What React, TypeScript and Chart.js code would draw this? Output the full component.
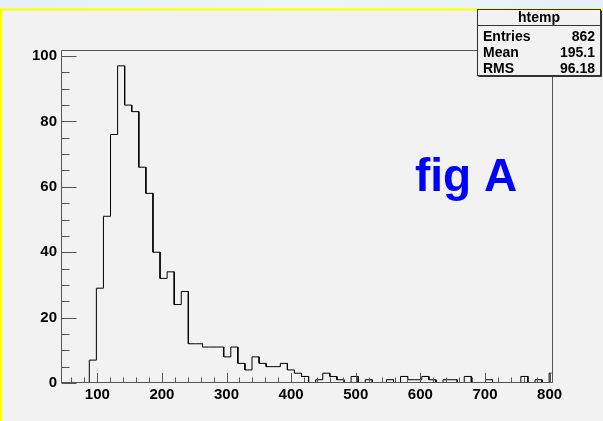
import React, { useEffect, useRef } from 'react';
import { Chart, registerables } from 'chart.js';

Chart.register(...registerables);

// ---- data ----
const BIN_START = 43.8;
const BIN_WIDTH = 10.95;
const counts = [
  0, 0, 0, 0, 7, 29, 51, 76, 97, 85, 83, 66, 58, 40, 32, 34, 24, 28,
  12, 12, 11, 11, 11, 8, 11, 6, 4, 8, 6, 5, 5, 6, 4, 3, 2, 0, 1, 3, 2,
  1, 0, 2, 0, 1, 0, 0, 1, 0, 2, 1, 1, 2, 1, 0, 1, 1, 0, 2, 0, 0, 1, 0, 0, 0, 0, 2, 0, 1, 0, 3,
];
const X_MIN = 43.8;
const X_MAX = 803;
const Y_MAX = 101.85;
const xMajorTicks = [100, 200, 300, 400, 500, 600, 700, 800];
const xMinorStep = 20;
const yMajorTicks = [0, 20, 40, 60, 80, 100];
const yMinorStep = 5;
const statsTitle = 'htemp';
const statsLabels = ['Entries', 'Mean', 'RMS'];
const statsValues = ['862', '195.1', '96.18'];
const annotationText = 'fig A';

const FONT = '"Liberation Sans", Arial, Helvetica, sans-serif';
const BG = '#f2f2f2';
const FRAME = '#555555';

function buildTicks(min: number, max: number, step: number) {
  const out: number[] = [];
  for (let v = Math.ceil(min / step) * step; v <= max + 1e-9; v += step) out.push(v);
  return out;
}

const histPoints: { x: number; y: number }[] = [];
counts.forEach((c, k) => {
  histPoints.push({ x: BIN_START + k * BIN_WIDTH, y: c });
  histPoints.push({ x: BIN_START + (k + 1) * BIN_WIDTH, y: c });
});

const decorPlugin = {
  id: 'rootDecor',
  beforeDraw(chart: any) {
    const { ctx, width, height } = chart;
    ctx.save();
    ctx.fillStyle = BG;
    ctx.fillRect(0, 0, width, height);
    const g = ctx.createLinearGradient(0, 0, width, 0);
    g.addColorStop(0, '#e6eff9');
    g.addColorStop(0.5, '#eef4fb');
    g.addColorStop(1, '#e6eff9');
    ctx.fillStyle = g;
    ctx.fillRect(0, 0, width, 8.5);
    ctx.fillStyle = '#ffff00';
    ctx.fillRect(0, 8.5, width, 2);
    ctx.fillRect(0, 8.5, 2.3, height);
    ctx.restore();
  },
  afterDatasetsDraw(chart: any) {
    const { ctx, chartArea } = chart;
    const xs = chart.scales.x;
    const ys = chart.scales.y;
    const L = Math.round(chartArea.left) + 0.5;
    const R = Math.round(chartArea.right) + 0.5;
    const T = Math.round(chartArea.top) + 0.5;
    const B = Math.round(chartArea.bottom) - 0.5;
    ctx.save();
    ctx.strokeStyle = FRAME;
    ctx.lineWidth = 1;
    ctx.beginPath();
    ctx.rect(L, T, R - L, B - T);
    // x ticks
    buildTicks(X_MIN, X_MAX, xMinorStep).forEach((v) => {
      const px = Math.round(xs.getPixelForValue(v)) + 0.5;
      const len = xMajorTicks.includes(v) ? 9.5 : 5;
      ctx.moveTo(px, B);
      ctx.lineTo(px, B - len);
    });
    // y ticks
    buildTicks(0, Y_MAX, yMinorStep).forEach((v) => {
      const py = Math.round(ys.getPixelForValue(v)) + 0.5;
      const len = yMajorTicks.includes(v) ? 15 : 8;
      ctx.moveTo(L, py);
      ctx.lineTo(L + len, py);
    });
    ctx.stroke();
    ctx.restore();
  },
  afterDraw(chart: any) {
    const { ctx } = chart;
    ctx.save();
    // annotation
    ctx.fillStyle = '#0000ff';
    ctx.font = `bold 46px ${FONT}`;
    ctx.textAlign = 'left';
    ctx.textBaseline = 'alphabetic';
    ctx.fillText(annotationText, 415, 191);

    // stats box
    const bx = 477.5, by = 9.5, bw = 123, bh = 66;
    ctx.fillStyle = BG;
    ctx.fillRect(bx, by, bw, bh);
    ctx.strokeStyle = '#333333';
    ctx.lineWidth = 1;
    ctx.strokeRect(bx, by, bw, bh);
    ctx.beginPath();
    ctx.moveTo(bx, 25.5);
    ctx.lineTo(bx + bw, 25.5);
    ctx.moveTo(bx + 1, by + bh + 1);
    ctx.lineTo(bx + bw + 1, by + bh + 1);
    ctx.moveTo(bx + bw + 1, by + 1);
    ctx.lineTo(bx + bw + 1, by + bh + 1);
    ctx.stroke();

    ctx.fillStyle = '#000000';
    ctx.font = `bold 14px ${FONT}`;
    ctx.textAlign = 'center';
    ctx.fillText(statsTitle, 539, 22);
    const baselines = [41, 57, 72.5];
    statsLabels.forEach((lab, i) => {
      ctx.textAlign = 'left';
      ctx.fillText(lab, 483, baselines[i]);
      ctx.textAlign = 'right';
      ctx.fillText(statsValues[i], 595, baselines[i]);
    });
    ctx.restore();
  },
};

export default function App() {
  const ref = useRef<HTMLCanvasElement | null>(null);
  useEffect(() => {
    document.body.style.margin = '0';
    const canvas = ref.current;
    if (!canvas) return;
    const chart = new Chart(canvas, {
      type: 'line',
      data: {
        datasets: [
          {
            label: statsTitle,
            data: histPoints,
            borderColor: '#000000',
            borderWidth: 1,
            pointRadius: 0,
            fill: false,
            tension: 0,
          },
        ],
      },
      options: {
        animation: false,
        responsive: false,
        devicePixelRatio: 1,
        layout: { padding: { left: 0, top: 50, right: 51.5, bottom: 0 } },
        plugins: { legend: { display: false }, tooltip: { enabled: false } },
        scales: {
          x: {
            type: 'linear',
            min: X_MIN,
            max: X_MAX,
            afterBuildTicks: (s: any) => {
              s.ticks = xMajorTicks.map((v) => ({ value: v }));
            },
            afterFit: (s: any) => {
              s.height = 38;
            },
            ticks: {
              autoSkip: false,
              maxRotation: 0,
              minRotation: 0,
              padding: 3,
              color: '#000000',
              font: { family: FONT, size: 15, weight: 'bold' },
            },
            grid: { display: false, drawTicks: false },
            border: { display: false },
          },
          y: {
            type: 'linear',
            min: 0,
            max: Y_MAX,
            afterBuildTicks: (s: any) => {
              s.ticks = yMajorTicks.map((v) => ({ value: v }));
            },
            afterFit: (s: any) => {
              s.width = 61;
            },
            ticks: {
              autoSkip: false,
              padding: 4,
              color: '#000000',
              font: { family: FONT, size: 15, weight: 'bold' },
            },
            grid: { display: false, drawTicks: false },
            border: { display: false },
          },
        },
      },
      plugins: [decorPlugin],
    } as any);
    return () => chart.destroy();
  }, []);
  return (
    <div style={{ width: 603, height: 421 }}>
      <canvas ref={ref} width={603} height={421} style={{ display: 'block' }} />
    </div>
  );
}
